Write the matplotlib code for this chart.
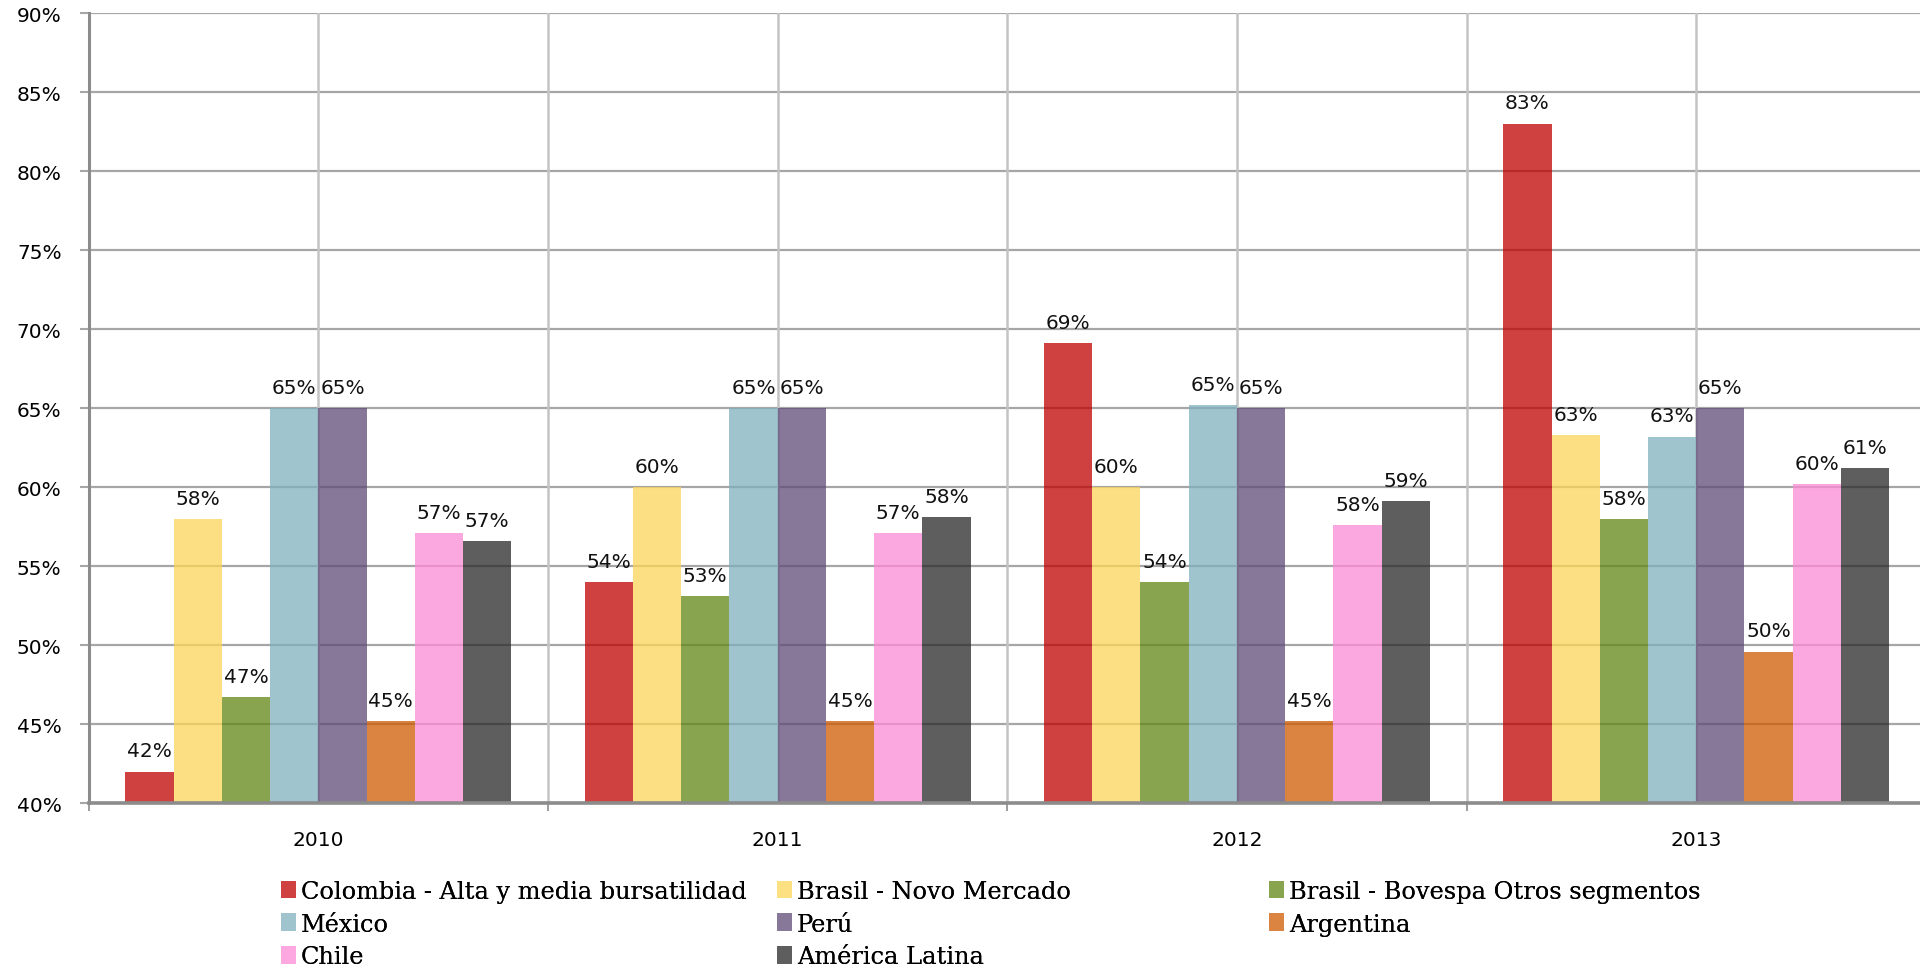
import numpy as np
import matplotlib
matplotlib.use("Agg")
import matplotlib.pyplot as plt
from matplotlib.colors import to_rgb
from matplotlib.patches import Patch
from matplotlib.ticker import MultipleLocator, FuncFormatter


# ─────────────────────────────────────────
#  DATA  (% of companies, by year)
# ─────────────────────────────────────────
years = ["2010", "2011", "2012", "2013"]

series_names = [
    "Colombia - Alta y media bursatilidad",
    "Brasil - Novo Mercado",
    "Brasil - Bovespa Otros segmentos",
    "México",
    "Perú",
    "Argentina",
    "Chile",
    "América Latina",
]

colombia        = [42.0, 54.0, 69.1, 83.0]
brasil_novo     = [58.0, 60.0, 60.0, 63.3]
brasil_bovespa  = [46.7, 53.1, 54.0, 58.0]
mexico          = [65.0, 65.0, 65.2, 63.2]
peru            = [65.0, 65.0, 65.0, 65.0]
argentina       = [45.2, 45.2, 45.2, 49.6]
chile           = [57.1, 57.1, 57.6, 60.2]
america_latina  = [56.6, 58.1, 59.1, 61.2]

series_values = [colombia, brasil_novo, brasil_bovespa, mexico,
                 peru, argentina, chile, america_latina]

# ─────────────────────────────────────────
#  STYLE
# ─────────────────────────────────────────
BAR_ALPHA = 0.75
colors = ["#bf0000", "#fcd558", "#628613", "#7fb0be",
          "#5f4a77", "#cf5a00", "#fc8bd6", "#282828"]
BAR_WIDTH = 0.105
GRID_H    = "#a6a6a6"
GRID_V    = "#c4c4c4"
AXIS_COL  = "#8c8c8c"
TXT_SIZE  = 14.5


def on_white(c, a=BAR_ALPHA):
    # flat colour of a translucent bar over a white background
    return tuple(a * np.array(to_rgb(c)) + (1 - a))


W, H = 1920, 970
fig = plt.figure(figsize=(W / 100, H / 100), dpi=100)

left, right = 88.7, 88.7 + 4 * 459.3
top, bottom = 14.0, 804.3
ax = fig.add_axes([left / W, 1 - bottom / H, (right - left) / W, (bottom - top) / H])

x = np.arange(len(years))
n = len(series_values)
for i, (name, vals, col) in enumerate(zip(series_names, series_values, colors)):
    pos = x + (i - (n - 1) / 2) * BAR_WIDTH
    ax.bar(pos, vals, width=BAR_WIDTH, color=col, alpha=BAR_ALPHA,
           linewidth=0, zorder=2, label=name)
    for xp, v in zip(pos, vals):
        ax.annotate(f"{v:.0f}%", (xp, v), xytext=(0, 11), textcoords="offset points",
                    ha="center", va="baseline", fontsize=TXT_SIZE, color="#111111",
                    family="DejaVu Sans", zorder=4)

ax.set_xlim(-0.5, len(years) - 0.5)
ax.set_ylim(40, 90)

# y axis: 5 % steps
ax.yaxis.set_major_locator(MultipleLocator(5))
ax.yaxis.set_major_formatter(FuncFormatter(lambda v, _: f"{v:.0f}%"))
ax.tick_params(axis="y", length=6.5, width=1.5, color=GRID_H, pad=13, labelsize=TXT_SIZE)

# x axis: labels at centres, tick marks at category boundaries
ax.set_xticks(x)
ax.set_xticklabels(years)
ax.set_xticks(np.arange(len(years) + 1) - 0.5, minor=True)
ax.tick_params(axis="x", which="major", length=0, pad=19, labelsize=TXT_SIZE)
ax.tick_params(axis="x", which="minor", length=6, width=1.2, color=AXIS_COL)

# grid: horizontal at each tick, vertical every half category
ax.grid(axis="y", color=GRID_H, linewidth=1.6, zorder=1)
for xv in np.arange(-0.5, len(years), 0.5)[1:]:
    ax.axvline(xv, color=GRID_V, linewidth=1.8, zorder=1)
ax.set_axisbelow(True)

for side in ["top", "right"]:
    ax.spines[side].set_visible(False)
for side in ["left", "bottom"]:
    ax.spines[side].set_color(AXIS_COL)
    ax.spines[side].set_zorder(3)
ax.spines["left"].set_linewidth(2.2)
ax.spines["bottom"].set_linewidth(2.6)

# legend: three fixed-width columns, filled row by row
columns = [[0, 3, 6], [1, 4, 7], [2, 5]]
col_x = [281, 777, 1269]
for idxs, cx in zip(columns, col_x):
    handles = [Patch(facecolor=on_white(colors[k]), linewidth=0) for k in idxs]
    leg = fig.legend(handles, [series_names[k] for k in idxs],
                     loc="upper left", bbox_to_anchor=(cx / W, 1 - 881 / H),
                     bbox_transform=fig.transFigure, frameon=False,
                     prop={"family": "DejaVu Serif", "size": 17.3},
                     handlelength=0.62, handleheight=0.75, handletextpad=0.2,
                     labelspacing=0.4, borderpad=0, borderaxespad=0)
    fig.add_artist(leg)

fig.savefig("out.png", dpi=100)
